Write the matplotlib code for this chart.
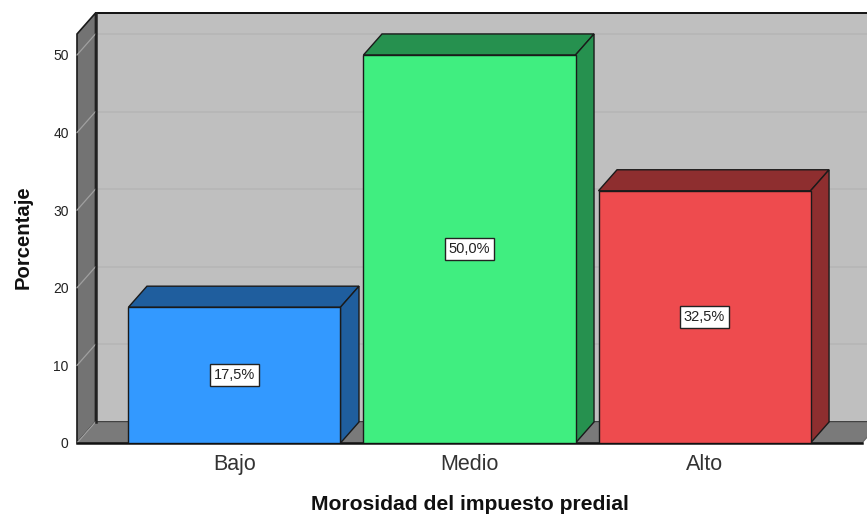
import numpy as np
import matplotlib
matplotlib.use("Agg")
import matplotlib.pyplot as plt
from matplotlib.patches import Polygon

categories = ["Bajo", "Medio", "Alto"]
values = [17.5, 50.0, 32.5]
labels = ["17,5%", "50,0%", "32,5%"]
y_ticks = [0, 10, 20, 30, 40, 50]
front_colors = ["#3399ff", "#40ee80", "#ee4b4e"]
side_colors = ["#1f5e9e", "#26914f", "#8e2e2f"]

plt.rcParams["font.family"] = ["Liberation Sans", "DejaVu Sans"]

W, H = 867, 516
fig = plt.figure(figsize=(W / 100, H / 100), dpi=100)
# axes box is the front plane of the 3D chart
ax = fig.add_axes([77 / W, 1 - 443 / H, (862 - 77) / W, (443 - 34) / H])
x0, x1 = -0.67, 2.67
y1 = 52.7
ax.set_xlim(x0, x1)
ax.set_ylim(0, y1)

dx = 18.5 / 235  # depth in x units
dy = 21 / 7.76  # depth in y units
bar_w = 212 / 235
edge = "#1a1a1a"


def poly(pts, fc, z, lw=1.0, ec=edge):
    ax.add_patch(Polygon(pts, closed=True, fc=fc, ec=ec, lw=lw, zorder=z, clip_on=False))


# back wall, left wall, floor
poly([(x0 + dx, dy), (x1 + dx, dy), (x1 + dx, y1 + dy), (x0 + dx, y1 + dy)], "#bfbfbf", 1, lw=1.4, ec="#111111")
poly([(x0, 0), (x0 + dx, dy), (x0 + dx, y1 + dy), (x0, y1)], "#737373", 2, lw=1.2)
poly([(x0, 0), (x1, 0), (x1 + dx, dy), (x0 + dx, dy)], "#7a7a7a", 2, lw=0.8, ec="#666666")
ax.plot([x0, x1], [0, 0], color="#111111", lw=1.8, zorder=3, clip_on=False)
ax.plot([x0 + dx, x0 + dx], [dy, y1 + dy], color="#222222", lw=1.8, zorder=3, clip_on=False)

# gridlines on the walls
for t in y_ticks[1:]:
    ax.plot([x0 + dx, x1 + dx], [t + dy, t + dy], color="#b6b6b6", lw=1.2, zorder=1.5, clip_on=False)
for t in y_ticks:
    ax.plot([x0, x0 + dx], [t, t + dy], color="#a0a0a0", lw=0.9, zorder=2.5, clip_on=False)

# bars
xs = np.arange(len(categories))
ax.bar(xs, values, width=bar_w, color=front_colors, edgecolor=edge, linewidth=1.0, zorder=5)
for x, v, side in zip(xs, values, side_colors):
    l, r = x - bar_w / 2, x + bar_w / 2
    poly([(l, v), (r, v), (r + dx, v + dy), (l + dx, v + dy)], side, 4)
    poly([(r, 0), (r + dx, dy), (r + dx, v + dy), (r, v)], side, 4)

for x, v, s in zip(xs, values, labels):
    ax.text(x, v / 2, s, ha="center", va="center", fontsize=10.5, color="#222222", zorder=6,
            bbox=dict(boxstyle="square,pad=0.25", fc="white", ec="#222222", lw=1))

for s in ax.spines.values():
    s.set_visible(False)
ax.set_xticks(xs, categories, fontsize=15.5, color="#333333")
ax.set_yticks(y_ticks, [str(t) for t in y_ticks], fontsize=10, color="#222222")
ax.tick_params(axis="both", length=0)
ax.tick_params(axis="y", pad=6)
ax.tick_params(axis="x", pad=8)

fig.text(469.5 / W, 1 - 505 / H, "Morosidad del impuesto predial", ha="center", va="center",
         fontsize=15.2, fontweight="bold", color="#111111")
fig.text(23 / W, 1 - 237 / H, "Porcentaje", ha="center", va="center", rotation=90,
         fontsize=14.6, fontweight="bold", color="#111111")

fig.savefig("out.png", dpi=100)
